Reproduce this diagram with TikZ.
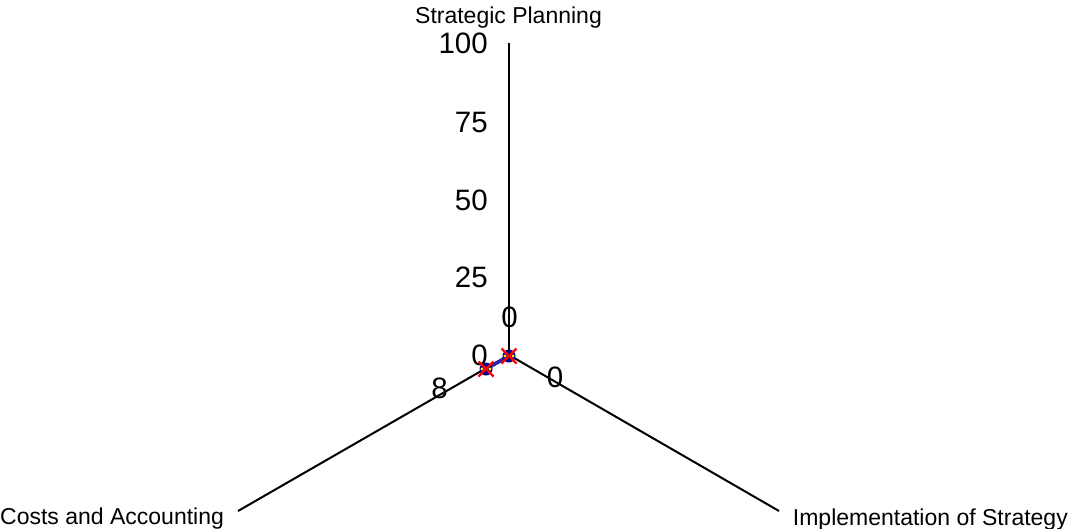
\documentclass[tikz,border=0pt]{standalone}
\usepackage{fontspec}
\setmainfont{Liberation Sans}
\usetikzlibrary{calc}
\begin{document}
\begin{tikzpicture}[x=1pt,y=-1pt,
  axis/.style={line width=2pt,black},
  tick/.style={font=\fontsize{29.5}{29.5}\selectfont,anchor=base east,inner sep=0pt},
  dlab/.style={font=\fontsize{29.5}{29.5}\selectfont,anchor=base,inner sep=0pt},
  cat/.style={font=\fontsize{23}{23}\selectfont,inner sep=0pt},
  series/.style={line width=3.5pt,draw={rgb,255:red,40;green,40;blue,170}},
  mk/.style={circle,fill={rgb,255:red,0;green,0;blue,140},minimum size=13pt,inner sep=0pt}
]
\useasboundingbox (0,0) rectangle (1070,528);
\coordinate (c) at (509,355);
\coordinate (t) at (509,43);
\coordinate (l) at (238,511);
\coordinate (r) at (779,511);
\draw[axis] (c) -- (t);
\draw[axis] (c) -- (l);
\draw[axis] (c) -- (r);
% tick labels
\node[tick] (t100) at (488,53) {100};
\node[tick] (t75) at (488,132) {75};
\node[tick] (t50) at (488,210) {50};
\node[tick] (t25) at (488,287) {25};
\node[tick] (t0) at (488,365) {0};
% categories
\node[cat,anchor=base] (sp) at (508.5,23) {Strategic Planning};
\node[cat,anchor=base west] (ca) at (0,524) {Costs and Accounting};
\node[cat,anchor=base east] (is) at (1068,525) {Implementation of Strategy};
% series
\coordinate (p1) at (509,356);
\coordinate (p2) at (486,369);
\coordinate (p3) at (509,356);
\draw[series] (p1) -- (p2) -- (p3);
\foreach \p in {p1,p2}{
  \node[mk] at (\p) {};
  \fill[yellow] ($(\p)+(-4,0)$) circle (1.7);
  \fill[yellow] ($(\p)+(4,0)$) circle (1.7);
  \draw[red,line width=2.2pt] ($(\p)+(-7.5,-7.5)$) -- ($(\p)+(7.5,7.5)$);
  \draw[red,line width=2.2pt] ($(\p)+(-7.5,7.5)$) -- ($(\p)+(7.5,-7.5)$);
}
% data labels
\node[dlab] (d1) at (509.5,327) {0};
\node[dlab] (d2) at (555,387) {0};
\node[dlab] (d3) at (439.5,398) {8};
\end{tikzpicture}
\end{document}
